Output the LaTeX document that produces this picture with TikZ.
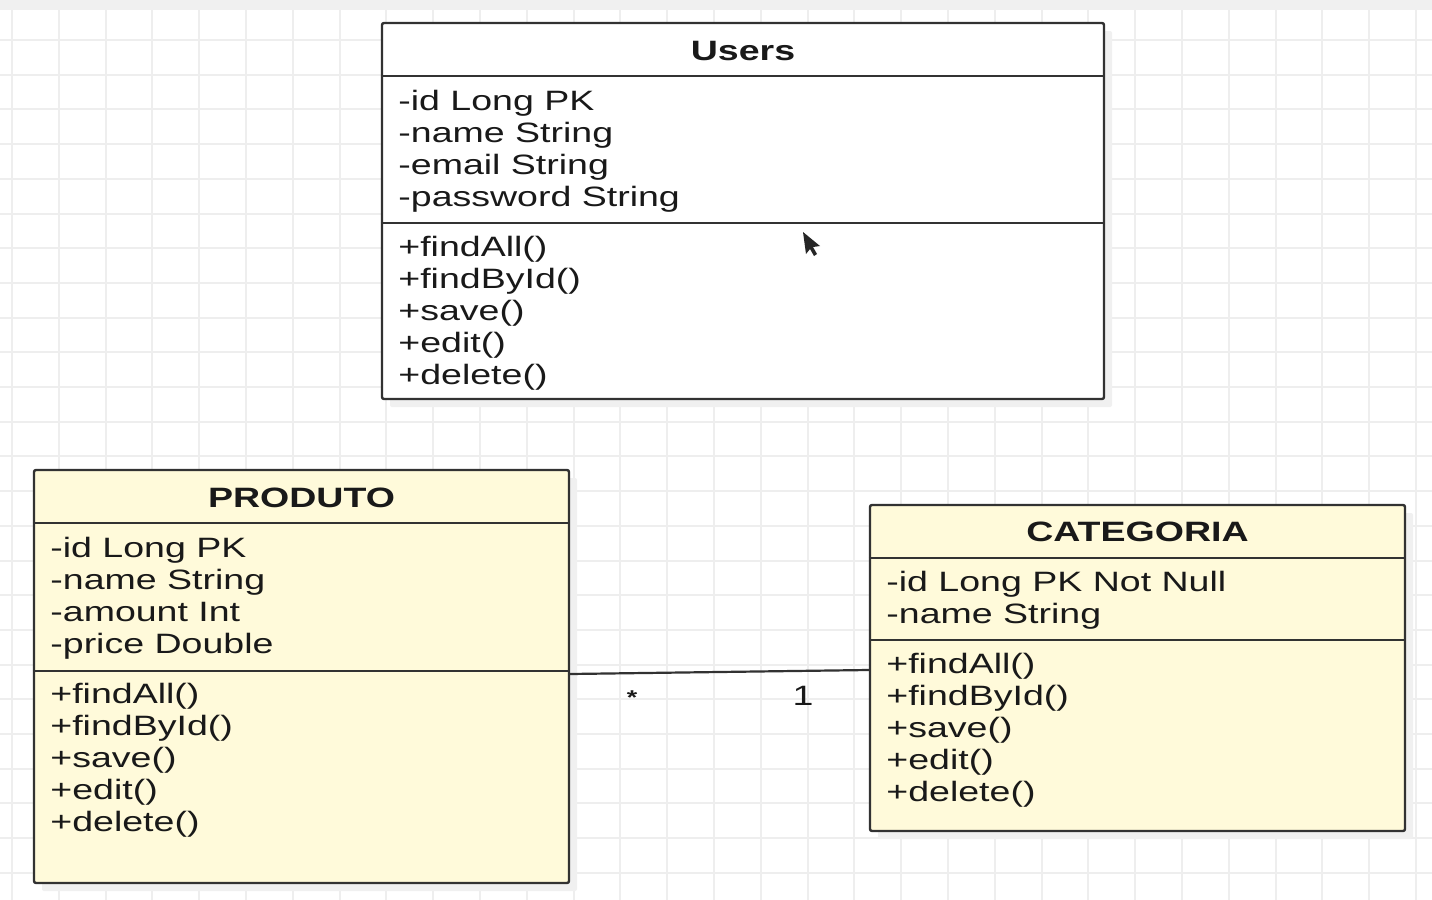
\documentclass[tikz,border=0pt]{standalone}
\usepackage{fontspec}
\usepackage{xcolor}
\usepackage{tikz}
\usetikzlibrary{positioning,calc,shadows}
\newfontfamily\umlfont{Liberation Sans}[FakeStretch=1.34]
\definecolor{classfill}{RGB}{255,250,218}
\definecolor{gridgray}{RGB}{238,238,238}
\definecolor{edgegray}{RGB}{50,50,50}
\tikzset{
    classbox/.style={draw=edgegray, line width=1.2pt, rounded corners=1pt, inner sep=0pt,
        general shadow={fill=black!6, shadow xshift=4pt, shadow yshift=-4pt}},
    member/.style={anchor=base west, inner sep=0pt, text=black!90,
        font=\umlfont\fontsize{14}{16}\selectfont},
    title/.style={anchor=base, inner sep=0pt, text=black!90,
        font=\umlfont\bfseries\fontsize{14}{16}\selectfont},
    sep/.style={draw=edgegray, line width=1.2pt}
}
\begin{document}
\begin{tikzpicture}[x=0.5pt, y=-0.5pt]
    \useasboundingbox (0,0) rectangle (1432,900);
    \fill[white] (0,0) rectangle (1432,900);

    % Background grid
    \foreach \k in {0,...,30}
        \draw[gridgray, line width=1pt] (12+46.8*\k, 0) -- (12+46.8*\k, 900);
    \foreach \k in {0,...,25}
        \draw[gridgray, line width=1pt] (0, 40+34.7*\k) -- (1432, 40+34.7*\k);
    \fill[black!6] (0,0) rectangle (1432,10);

    % Classes
    \node[classbox, fill=white, minimum width=361pt, minimum height=188pt] (users) at (743,211) {};
    \node[classbox, fill=classfill, minimum width=267.5pt, minimum height=206.5pt] (produto) at (301.5,676.5) {};
    \node[classbox, fill=classfill, minimum width=267.5pt, minimum height=163pt] (categoria) at (1137.5,668) {};

    % Compartments
    \draw[sep] (users.west |- 0,76) -- (users.east |- 0,76);
    \draw[sep] (users.west |- 0,223) -- (users.east |- 0,223);
    \draw[sep] (produto.west |- 0,523) -- (produto.east |- 0,523);
    \draw[sep] (produto.west |- 0,671) -- (produto.east |- 0,671);
    \draw[sep] (categoria.west |- 0,558) -- (categoria.east |- 0,558);
    \draw[sep] (categoria.west |- 0,640) -- (categoria.east |- 0,640);

    % Users
    \node[title] (usersname) at (743,60) {Users};
    \foreach \txt [count=\i] in {-id Long PK, -name String, -email String, -password String}
        \node[member] (ua\i) at (398, 78+32*\i) {\txt};
    \foreach \txt [count=\i] in {+findAll(), +findById(), +save(), +edit(), +delete()}
        \node[member] (um\i) at (398, 224+32*\i) {\txt};

    % PRODUTO
    \node[title] (produtoname) at (301.5,507) {PRODUTO};
    \foreach \txt [count=\i] in {-id Long PK, -name String, -amount Int, -price Double}
        \node[member] (pa\i) at (50, 525+32*\i) {\txt};
    \foreach \txt [count=\i] in {+findAll(), +findById(), +save(), +edit(), +delete()}
        \node[member] (pm\i) at (50, 671+32*\i) {\txt};

    % CATEGORIA
    \node[title] (categorianame) at (1137.5,541) {CATEGORIA};
    \foreach \txt [count=\i] in {-id Long PK Not Null, -name String}
        \node[member] (ca\i) at (886, 559+32*\i) {\txt};
    \foreach \txt [count=\i] in {+findAll(), +findById(), +save(), +edit(), +delete()}
        \node[member] (cm\i) at (886, 641+32*\i) {\txt};

    % Association
    \draw[edgegray, line width=1.1pt] (produto.east |- 0,674) -- (categoria.west |- 0,670);
    \node[member, anchor=base, font=\umlfont\bfseries\fontsize{10}{12}\selectfont] (many) at (632,704) {*};
    \node[member, anchor=base] (one) at (803,705) {1};

    % Mouse pointer
    \fill[black!85] (803,232) -- (806,254) -- (810,249) -- (814,256) -- (817,254) -- (813,247) -- (820,246) -- cycle;
\end{tikzpicture}
\end{document}
